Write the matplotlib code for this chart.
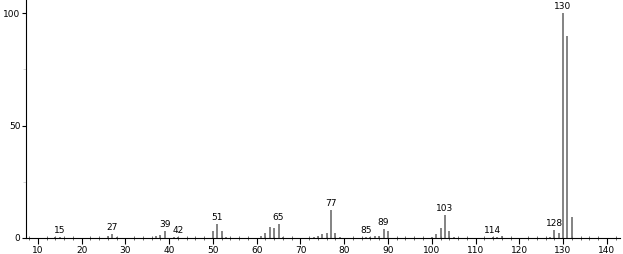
import matplotlib.pyplot as plt
from matplotlib.ticker import MultipleLocator

# m/z values and relative intensities
mz = [14, 15, 26, 27, 28, 37, 38, 39, 41, 42, 50, 51, 52, 53, 61, 62, 63, 64, 65, 66,
      73, 74, 75, 76, 77, 78, 79, 85, 86, 87, 88, 89, 90, 100, 101, 102, 103, 104, 105,
      114, 115, 116, 127, 128, 129, 130, 131, 132]
intensity = [0.3, 0.5, 1.0, 1.8, 0.5, 0.7, 1.5, 3.1, 0.5, 0.5, 3.3, 6.2, 3.0, 0.5, 0.7, 2.2, 5.0, 4.5, 6.2, 0.5,
             0.5, 1.0, 1.8, 2.0, 12.4, 2.0, 0.5, 0.5, 0.5, 0.7, 1.0, 4.0, 3.3, 0.5, 1.8, 4.5, 10.2, 3.0, 0.5,
             0.5, 0.5, 0.7, 0.5, 3.5, 2.2, 100.0, 90.0, 9.3]
labelled = [15, 27, 39, 42, 51, 65, 77, 85, 89, 103, 114, 128, 130]

fig = plt.figure(figsize=(6.23, 2.54), dpi=100)
ax = fig.add_axes([0.042, 0.063, 0.953, 0.937])

ax.vlines(mz, 0, intensity, color='#6e6e6e', linewidth=1.2)

for m in labelled:
    h = intensity[mz.index(m)]
    ax.text(m, h + 1.0, str(m), ha='center', va='bottom', fontsize=6.5)

ax.set_xlim(7.3, 143)
ax.set_ylim(0, 105.8)
ax.spines['top'].set_visible(False)
ax.spines['right'].set_visible(False)

ax.xaxis.set_major_locator(MultipleLocator(10))
ax.xaxis.set_minor_locator(MultipleLocator(2))
ax.yaxis.set_major_locator(MultipleLocator(50))
ax.yaxis.set_minor_locator(MultipleLocator(25))
ax.tick_params(axis='x', which='major', direction='out', length=4, labelsize=6.5, pad=2)
ax.tick_params(axis='x', which='minor', direction='inout', length=3, color='#555555')
ax.tick_params(axis='y', which='major', direction='out', length=3, labelsize=6.5, pad=1)
ax.tick_params(axis='y', which='minor', direction='out', length=2, color='#cccccc')

fig.savefig('out.png', dpi=100)
